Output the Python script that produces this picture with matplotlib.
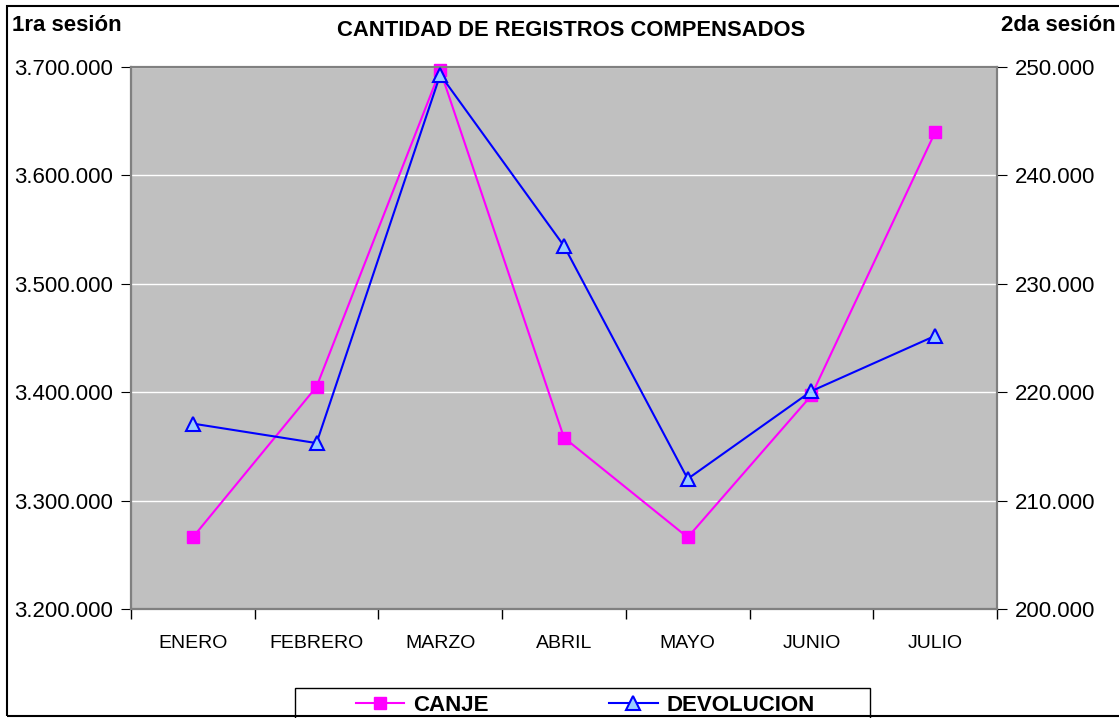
#!/usr/bin/env python3
"""
Cantidad de registros compensados - 1ra y 2da sesion
"""

import matplotlib
matplotlib.use("Agg")
import matplotlib.pyplot as plt
from matplotlib.patches import Rectangle
from matplotlib.ticker import FuncFormatter, FixedLocator

plt.rcParams['font.family'] = ['Liberation Sans', 'DejaVu Sans']

# Data
meses = ['ENERO', 'FEBRERO', 'MARZO', 'ABRIL', 'MAYO', 'JUNIO', 'JULIO']
canje = [3266000, 3405000, 3697000, 3358000, 3266000, 3397000, 3640000]
devolucion = [217100, 215300, 249300, 233500, 212000, 220100, 225200]

left_ticks = [3200000, 3300000, 3400000, 3500000, 3600000, 3700000]
right_ticks = [200000, 210000, 220000, 230000, 240000, 250000]


def miles(v, pos=None):
    return f'{int(round(v)):,}'.replace(',', '.')


fig = plt.figure(figsize=(11.19, 7.18), dpi=100)
ax = fig.add_axes([0.117, 0.152, 0.774, 0.7545])
ax2 = ax.twinx()

ax.set_facecolor('#C0C0C0')
ax.set_zorder(ax2.get_zorder() - 1)
ax2.patch.set_visible(False)

x = list(range(len(meses)))
l1, = ax.plot(x, canje, color='#FF00FF', linewidth=1.5, marker='s',
              markersize=8, markerfacecolor='#FF00FF', markeredgecolor='#FF00FF',
              label='CANJE', clip_on=False, zorder=3)
l2, = ax2.plot(x, devolucion, color='#0000FF', linewidth=1.5, marker='^',
               markersize=10, markerfacecolor='#99CCFF', markeredgecolor='#0000FF',
               markeredgewidth=1.5, label='DEVOLUCION', clip_on=False, zorder=4)

ax.set_xlim(-0.5, len(meses) - 0.5)
ax.set_ylim(3200000, 3700000)
ax2.set_ylim(200000, 250000)

ax.set_yticks(left_ticks)
ax2.set_yticks(right_ticks)
ax.yaxis.set_major_formatter(FuncFormatter(miles))
ax2.yaxis.set_major_formatter(FuncFormatter(miles))
ax.grid(axis='y', color='white', linewidth=1)
ax.set_axisbelow(True)

ax.set_xticks(x)
ax.set_xticklabels(meses)
ax.xaxis.set_minor_locator(FixedLocator([i + 0.5 for i in range(-1, len(meses))]))
ax.tick_params(axis='x', which='major', length=0, pad=19, labelsize=14)
ax.tick_params(axis='x', which='minor', length=7, direction='out', width=1)
ax.tick_params(axis='y', length=7, direction='out', labelsize=16, pad=6)
ax2.tick_params(axis='y', length=7, direction='out', labelsize=16, pad=6)

for a in (ax, ax2):
    for s in a.spines.values():
        s.set_color('#808080')
        s.set_linewidth(1.5)
ax.spines['left'].set_color('#404040')
ax.spines['bottom'].set_color('#404040')

fig.text(0.51, 0.957, 'CANTIDAD DE REGISTROS COMPENSADOS', ha='center', va='center',
         fontsize=15.8, fontweight='bold')
fig.text(0.011, 0.964, '1ra sesión', ha='left', va='center',
         fontsize=16, fontweight='bold')
fig.text(0.997, 0.964, '2da sesión', ha='right', va='center',
         fontsize=16, fontweight='bold')

leg = fig.legend([l1, l2], ['CANJE', 'DEVOLUCION'], loc='center',
                 bbox_to_anchor=(0.523, 0.018), bbox_transform=fig.transFigure,
                 ncol=2, frameon=False,
                 prop={'weight': 'bold', 'size': 16}, handlelength=2.2,
                 columnspacing=5.4, handletextpad=0.4, borderpad=0,
                 borderaxespad=0)

# legend box, cut by the bottom edge as in the original
fig.patches.append(Rectangle((295 / 1119, -0.05), 575 / 1119, 0.05 + 30 / 718,
                             transform=fig.transFigure, fill=False,
                             edgecolor='black', linewidth=1))

# outer chart border
fig.patches.append(Rectangle((0.006, 0.003), 1.2, 0.988, transform=fig.transFigure,
                             fill=False, edgecolor='black', linewidth=1.5))

plt.savefig('out.png', dpi=100)
